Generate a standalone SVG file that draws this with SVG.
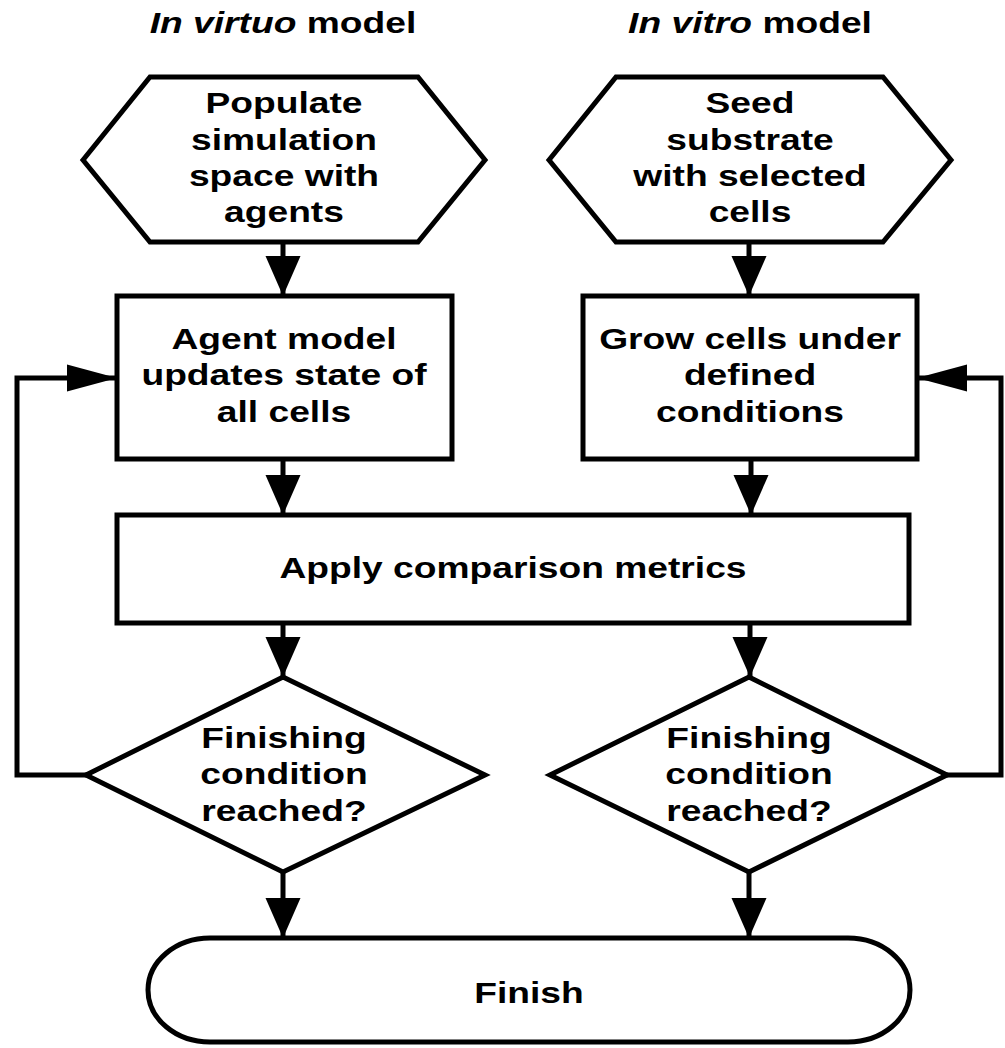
<svg xmlns="http://www.w3.org/2000/svg" width="1005" height="1048" viewBox="0 0 1005 1048">
<style>
.shape{fill:#fff;stroke:#000;stroke-width:5;stroke-linejoin:miter}
.edge{fill:none;stroke:#000;stroke-width:5}
text{font-family:"Liberation Sans",Arial,sans-serif;font-weight:bold;font-size:30px;fill:#000;text-anchor:middle}
.it{font-style:italic}
</style>
<defs>
<marker id="arrV" markerUnits="userSpaceOnUse" markerWidth="40" markerHeight="35" refX="40" refY="17.5" orient="auto" overflow="visible">
<path d="M0,0 L40,17.5 L0,35 Z" fill="#000"/>
</marker>
<marker id="arrH" markerUnits="userSpaceOnUse" markerWidth="50" markerHeight="27" refX="50" refY="13.5" orient="auto" overflow="visible">
<path d="M0,0 L50,13.5 L0,27 Z" fill="#000"/>
</marker>
</defs>
<rect width="1005" height="1048" fill="#fff"/>

<g id="title-virtuo" transform="translate(283 0) scale(1.24 1)">
<text x="0" y="33"><tspan class="it">In virtuo</tspan> model</text>
</g>
<g id="title-vitro" transform="translate(750 0) scale(1.24 1)">
<text x="0" y="33"><tspan class="it">In vitro</tspan> model</text>
</g>

<g id="connectors">
<line class="edge" x1="283" y1="242" x2="283" y2="296" marker-end="url(#arrV)"/>
<line class="edge" x1="749" y1="242" x2="749" y2="296" marker-end="url(#arrV)"/>
<line class="edge" x1="283" y1="459" x2="283" y2="515" marker-end="url(#arrV)"/>
<line class="edge" x1="751" y1="459" x2="751" y2="515" marker-end="url(#arrV)"/>
<line class="edge" x1="283" y1="623" x2="283" y2="677" marker-end="url(#arrV)"/>
<line class="edge" x1="750" y1="623" x2="750" y2="677" marker-end="url(#arrV)"/>
<line class="edge" x1="283" y1="872" x2="283" y2="938" marker-end="url(#arrV)"/>
<line class="edge" x1="749" y1="872" x2="749" y2="938" marker-end="url(#arrV)"/>
<polyline class="edge" points="86,775 17,775 17,378 117,378" marker-end="url(#arrH)"/>
<polyline class="edge" points="947,775 1001,775 1001,378 917,378" marker-end="url(#arrH)"/>
</g>

<g id="populate">
<polygon class="shape" points="83,160 150,77 418,77 485,160 418,242 150,242"/>
<g transform="translate(284 0) scale(1.24 1)">
<text x="0" y="113">Populate</text>
<text x="0" y="150">simulation</text>
<text x="0" y="186">space with</text>
<text x="0" y="222">agents</text>
</g>
</g>

<g id="seed">
<polygon class="shape" points="549,160 616,77 883,77 951,160 883,242 616,242"/>
<g transform="translate(750 0) scale(1.24 1)">
<text x="0" y="113">Seed</text>
<text x="0" y="150">substrate</text>
<text x="0" y="186">with selected</text>
<text x="0" y="222">cells</text>
</g>
</g>

<g id="agent-model">
<rect class="shape" x="117" y="296" width="335" height="163"/>
<g transform="translate(284 0) scale(1.24 1)">
<text x="0" y="349">Agent model</text>
<text x="0" y="385">updates state of</text>
<text x="0" y="422">all cells</text>
</g>
</g>

<g id="grow-cells">
<rect class="shape" x="583" y="296" width="334" height="163"/>
<g transform="translate(750 0) scale(1.24 1)">
<text x="0" y="349">Grow cells under</text>
<text x="0" y="385">defined</text>
<text x="0" y="422">conditions</text>
</g>
</g>

<g id="apply-metrics">
<rect class="shape" x="117" y="515" width="792" height="108"/>
<g transform="translate(513 0) scale(1.24 1)">
<text x="0" y="578">Apply comparison metrics</text>
</g>
</g>

<g id="finish-virtuo">
<polygon class="shape" points="283,677 485,775 283,872 86,775"/>
<g transform="translate(284 0) scale(1.24 1)">
<text x="0" y="748">Finishing</text>
<text x="0" y="784">condition</text>
<text x="0" y="821">reached?</text>
</g>
</g>

<g id="finish-vitro">
<polygon class="shape" points="749,677 947,775 749,872 550,775"/>
<g transform="translate(749 0) scale(1.24 1)">
<text x="0" y="748">Finishing</text>
<text x="0" y="784">condition</text>
<text x="0" y="821">reached?</text>
</g>
</g>

<g id="finish">
<rect class="shape" x="148" y="938" width="762" height="104" rx="62" ry="52"/>
<g transform="translate(529 0) scale(1.24 1)">
<text x="0" y="1003">Finish</text>
</g>
</g>
</svg>
